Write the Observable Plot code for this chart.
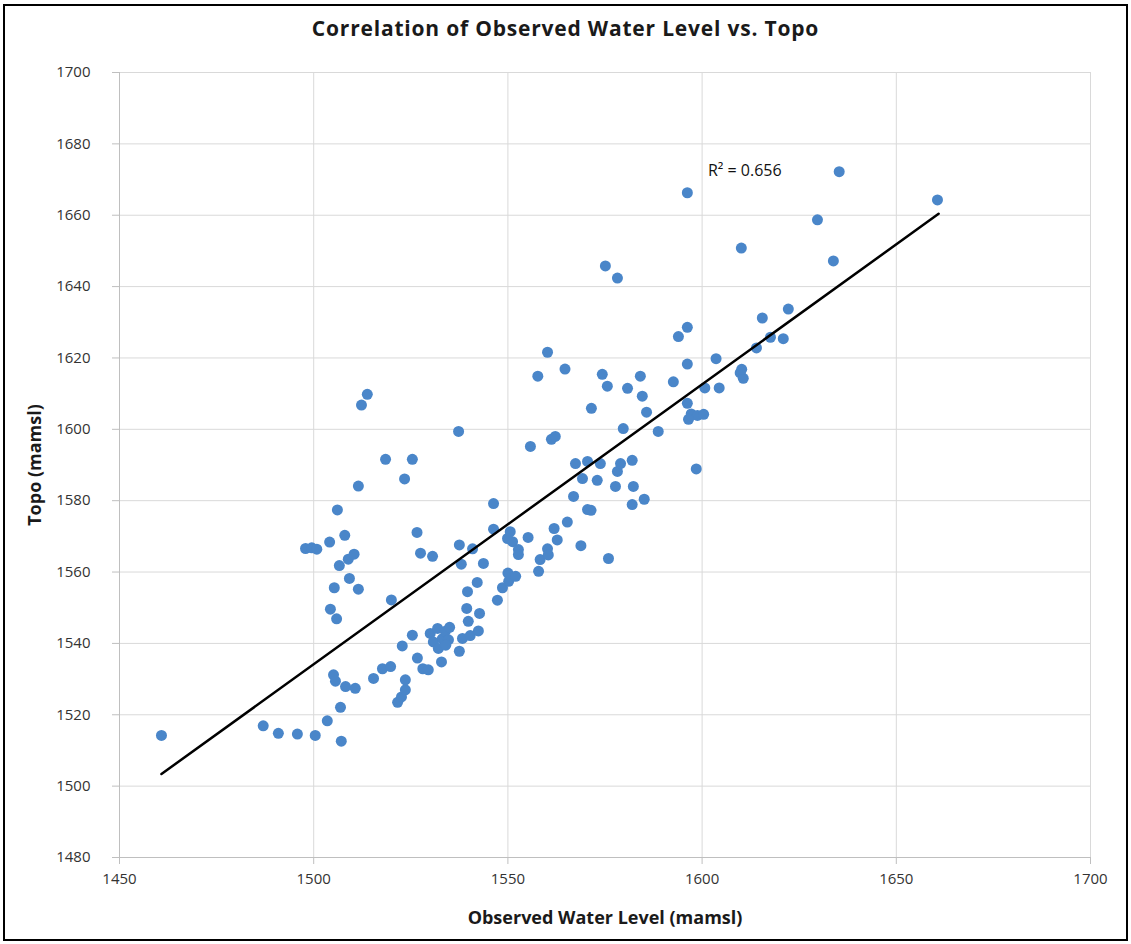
<!DOCTYPE html>
<html><head><meta charset="utf-8">
<script src="https://cdn.jsdelivr.net/npm/d3@7"></script>
<script src="https://cdn.jsdelivr.net/npm/@observablehq/plot@0.6"></script>
<style>
body{margin:0;background:#fff;}
#wrap{position:relative;width:1131px;height:944px;overflow:hidden;font-family:"Open Sans",sans-serif;}
#border{position:absolute;left:3px;top:4px;width:1125px;height:937px;border:2px solid #000;box-sizing:border-box;pointer-events:none;}
#title{box-sizing:border-box;height:50px;padding-top:14px;width:1131px;text-align:center;font-weight:bold;font-size:21px;letter-spacing:0.8px;line-height:28px;color:#1a1a1a;}
</style></head><body>
<div id="wrap"><div id="title">Correlation of Observed Water Level vs. Topo</div><div id="chart"></div><div id="border"></div></div>
<script>
const waterLevel = [
  1460.8,1487.0,1490.9,1495.8,1500.4,1507.1,1503.5,1506.9,1505.1,1505.6,1508.2,1510.7,
  1505.9,1504.3,1520.0,1505.3,1511.5,1509.2,1506.6,1508.9,1510.4,1497.9,1499.5,1500.8,1504.1,1508.0,1506.1,1511.5,1518.5,1525.4,1523.4,1526.6,1527.5,1530.6,1513.8,1512.3,1537.3,
  1521.6,1522.6,1523.6,1523.6,1515.4,1517.7,1519.8,1526.7,1528.1,1529.5,1532.9,1522.8,1525.4,1530.0,1530.8,1531.9,1533.1,1533.9,1534.7,1532.1,1535.0,1534.0,
  1537.5,1538.3,1540.3,1542.4,1539.8,1542.7,1539.4,1539.6,1542.1,1547.3,1548.6,1550.2,1550.0,1552.0,1543.7,1538.0,1537.5,1540.9,
  1546.3,1546.3,1549.9,1550.6,1551.2,1552.7,1552.7,1555.2,1557.9,1558.3,1560.2,1560.4,1561.9,1562.7,1565.3,1568.8,1575.9,1566.9,1570.5,1571.4,1569.2,1573.0,
  1567.4,1570.5,1573.8,1578.2,1579.0,1582.0,1577.7,1582.3,1582.0,1585.1,1555.8,1561.2,1562.2,1579.7,1588.7,1571.5,1585.7,1584.6,1575.6,1580.8,1574.3,1584.1,
  1557.7,1564.7,1560.2,1592.6,1596.2,1597.2,1598.8,1596.5,1600.4,1598.5,1596.2,1593.9,1596.2,1575.1,1578.2,1596.2,1603.6,1600.7,1604.4,1609.8,1610.6,1610.2,
  1614.0,1615.5,1617.6,1620.9,1622.2,1610.1,1629.7,1633.8,1635.3,1660.6
];
const topo = [
  1514.2,1516.9,1514.8,1514.6,1514.2,1512.6,1518.3,1522.1,1531.2,1529.4,1527.9,1527.4,
  1546.9,1549.6,1552.2,1555.6,1555.2,1558.2,1561.8,1563.6,1565.0,1566.6,1566.8,1566.4,1568.4,1570.3,1577.4,1584.1,1591.6,1591.6,1586.1,1571.1,1565.3,1564.4,1609.8,1606.8,1599.4,
  1523.5,1525.0,1527.0,1529.8,1530.2,1532.9,1533.5,1535.9,1532.9,1532.6,1534.8,1539.3,1542.3,1542.8,1540.4,1544.2,1541.3,1543.4,1541.0,1538.6,1544.5,1539.5,
  1537.8,1541.4,1542.2,1543.5,1546.2,1548.4,1549.8,1554.5,1557.1,1552.1,1555.6,1557.4,1559.7,1558.8,1562.4,1562.2,1567.6,1566.5,
  1572.0,1579.2,1569.4,1571.3,1568.5,1566.3,1564.9,1569.7,1560.2,1563.5,1566.5,1564.8,1572.2,1569.0,1574.0,1567.4,1563.8,1581.2,1577.5,1577.3,1586.2,1585.7,
  1590.4,1591.0,1590.4,1588.2,1590.4,1591.3,1584.0,1584.0,1578.9,1580.4,1595.2,1597.2,1598.0,1600.2,1599.4,1605.9,1604.8,1609.3,1612.1,1611.5,1615.4,1614.9,
  1614.9,1616.9,1621.6,1613.3,1607.3,1604.3,1603.9,1602.8,1604.2,1588.9,1618.3,1626.0,1628.6,1645.8,1642.4,1666.3,1619.8,1611.6,1611.6,1615.8,1614.3,1616.8,
  1622.8,1631.2,1625.8,1625.4,1633.7,1650.8,1658.7,1647.2,1672.2,1664.3
];
const trendWaterLevel = [1460.8, 1660.9];
const trendTopo = [1503.4, 1660.4];
const xTicks = [1450, 1500, 1550, 1600, 1650, 1700];
const yTicks = [1480, 1500, 1520, 1540, 1560, 1580, 1600, 1620, 1640, 1660, 1680, 1700];
const rSquared = 0.656;
const xLabel = "Observed Water Level (mamsl)";
const yLabel = "Topo (mamsl)";

const points = waterLevel.map((w, i) => ({w, t: topo[i]}));
const trend = trendWaterLevel.map((w, i) => ({w, t: trendTopo[i]}));

const chart = Plot.plot({
  width: 1131, height: 894,
  marginLeft: 119, marginRight: 41, marginTop: 22, marginBottom: 87,
  style: {fontFamily: '"Open Sans", sans-serif', fontSize: "15px", color: "#333", background: "transparent"},
  x: {domain: [1450, 1700]},
  y: {domain: [1480, 1700]},
  marks: [
    Plot.gridX(xTicks, {stroke: "#d9d9d9", strokeOpacity: 1}),
    Plot.gridY(yTicks, {stroke: "#d9d9d9", strokeOpacity: 1}),
    Plot.axisX(xTicks, {tickSize: 7, tickPadding: 9, stroke: "#bfbfbf", fill: "#333", label: null, tickFormat: d => String(d)}),
    Plot.axisY(yTicks, {tickSize: 7, tickPadding: 22, stroke: "#bfbfbf", fill: "#333", label: null, tickFormat: d => String(d)}),
    Plot.ruleX([1450], {stroke: "#bfbfbf"}),
    Plot.ruleY([1480], {stroke: "#bfbfbf"}),
    Plot.dot(points, {x: "w", y: "t", r: 5.5, fill: "#4a86c9", stroke: "none"}),
    Plot.line(trend, {x: "w", y: "t", stroke: "#000", strokeWidth: 2.5}),
    Plot.text([`R² = ${rSquared}`], {x: [1601.5], y: [1672.3], textAnchor: "start", fontSize: 16, fill: "#111"}),
    Plot.text([xLabel], {frameAnchor: "bottom", lineAnchor: "middle", dy: 61, fontWeight: "bold", fontSize: 18, fill: "#1a1a1a", style: "letter-spacing:0.5px"}),
    Plot.text([yLabel], {frameAnchor: "left", textAnchor: "middle", lineAnchor: "middle", dx: -84, rotate: -90, fontWeight: "bold", fontSize: 18, fill: "#1a1a1a"})
  ]
});
document.getElementById("chart").appendChild(chart);
</script>
</body></html>
